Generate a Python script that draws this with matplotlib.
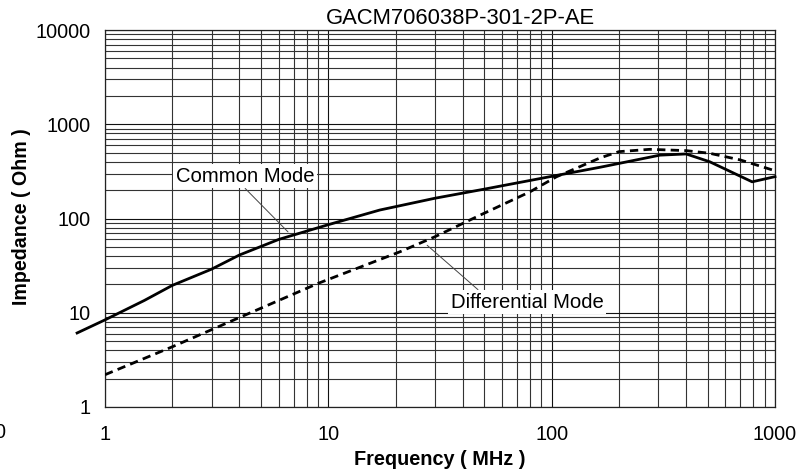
import matplotlib
matplotlib.use("Agg")
import matplotlib.pyplot as plt
from matplotlib import ticker

plt.rcParams.update({"font.family": ["Liberation Sans", "DejaVu Sans"], "font.size": 14})

# values (MHz, Ohm)
cm_freq = [0.75, 1, 1.5, 2, 3, 4, 6, 10, 17, 30, 50, 100, 165, 305, 400, 510, 790, 1000]
cm_imp = [6.1, 8.4, 13.5, 19.5, 29, 41, 60, 86, 123, 164, 205, 280, 350, 470, 484, 400, 245, 278]
dm_freq = [1, 2, 4, 9, 21, 30, 48, 80, 105, 165, 200, 275, 400, 510, 700, 1000]
dm_imp = [2.2, 4.35, 8.9, 20.5, 44.5, 64, 109, 192, 277, 440, 512, 542, 525, 492, 418, 321]

fig = plt.figure(figsize=(7.99, 4.72), dpi=100)
ax = fig.add_axes([105 / 799, 1 - 407 / 472, 670 / 799, 377 / 472])
ax.set_xscale("log")
ax.set_yscale("log")
ax.set_xlim(1, 1000)
ax.set_ylim(1, 10000)

ax.plot(cm_freq, cm_imp, "-", color="black", lw=2.0, clip_on=False, zorder=4)
ax.plot(dm_freq, dm_imp, color="black", lw=2.0, ls=(0, (3.0, 1.9)), zorder=4)

ax.grid(which="major", color="#111", lw=0.8)
ax.grid(which="minor", color="#333", lw=0.8)
ax.set_axisbelow(True)
for s in ax.spines.values():
    s.set_color("#222")
    s.set_linewidth(0.9)

ax.xaxis.set_major_locator(ticker.FixedLocator([1, 10, 100, 1000]))
ax.yaxis.set_major_locator(ticker.FixedLocator([1, 10, 100, 1000, 10000]))
fmt = ticker.FuncFormatter(lambda v, p: "%d" % round(v))
ax.xaxis.set_major_formatter(fmt)
ax.yaxis.set_major_formatter(fmt)
ax.xaxis.set_minor_formatter(ticker.NullFormatter())
ax.yaxis.set_minor_formatter(ticker.NullFormatter())
ax.tick_params(which="both", length=0)
ax.tick_params(axis="x", pad=13, labelsize=14.3)
ax.tick_params(axis="y", pad=10, labelsize=14.3)

ax.set_xlabel("Frequency ( MHz )", fontweight="bold", fontsize=14.3, labelpad=4)
ax.set_ylabel("Impedance ( Ohm )", fontweight="bold", fontsize=14.1, va="center")
ax.yaxis.set_label_coords(-83 / 670, 0.505)
ax.text(0.53, 1.003, "GACM706038P-301-2P-AE", transform=ax.transAxes,
        ha="center", va="bottom", fontsize=15.8)

box = dict(facecolor="white", edgecolor="none", pad=2)
ax.annotate("Common Mode", xy=(6.6, 72), xytext=(4.24, 282), ha="center", va="center",
            fontsize=14.6, bbox=box, zorder=5,
            arrowprops=dict(arrowstyle="-", color="#444", lw=0.7, shrinkA=0, shrinkB=0,
                            relpos=(0.48, 0.0)))
ax.annotate("Differential Mode", xy=(27.7, 52), xytext=(77.6, 13.0), ha="center", va="center",
            fontsize=14.6, bbox=box, zorder=5,
            arrowprops=dict(arrowstyle="-", color="#444", lw=0.7, shrinkA=0, shrinkB=0,
                            relpos=(0.2, 1.0)))

# clipped leftover tick label at the left edge
fig.text(0.0, 1 - 432 / 472, "0", ha="center", va="center", fontsize=14.3)

fig.savefig("out.png", dpi=100)
